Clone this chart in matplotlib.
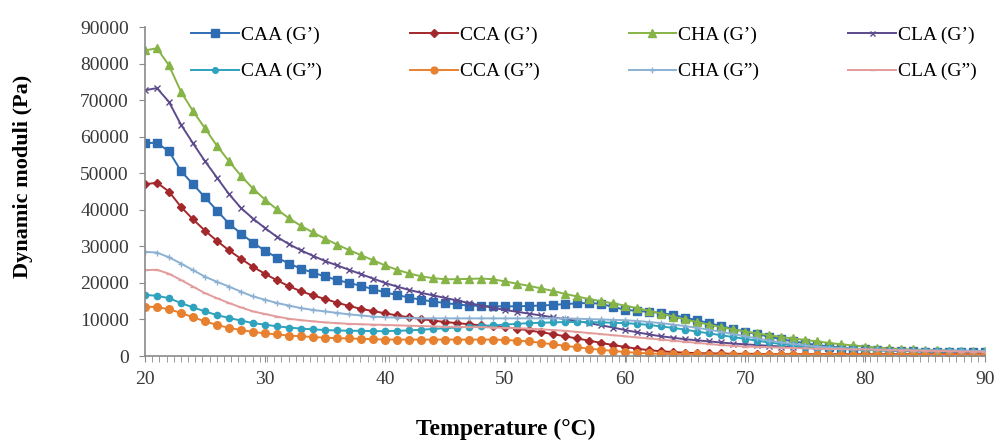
import numpy as np
import matplotlib

matplotlib.use("Agg")
import matplotlib.pyplot as plt
from matplotlib.ticker import FixedLocator

plt.rcParams["font.family"] = ["Liberation Serif", "DejaVu Serif"]

# temperature grid (°C), one reading per degree
temperature = list(range(20, 91))

caa_g1 = [58300, 58300, 56000, 50600, 47000, 43400, 39800, 36200, 33500, 31000,
          28800, 26900, 25300, 23900, 22800, 21800, 20800, 20000, 19200, 18300,
          17400, 16700, 16000, 15400, 14900, 14500, 14100, 13800, 13700, 13600,
          13600, 13600, 13700, 13800, 14000, 14200, 14400, 14500, 14300, 13400,
          12700, 12300, 12100, 11800, 11200, 10500, 9800, 9000, 8200, 7400,
          6700, 6000, 5300, 4600, 4000, 3500, 3000, 2600, 2300, 2000,
          1800, 1600, 1500, 1400, 1300, 1200, 1200, 1100, 1100, 1000, 1000]
cca_g1 = [47000, 47400, 45000, 40800, 37400, 34300, 31500, 28900, 26600, 24400,
          22500, 20700, 19100, 17700, 16600, 15600, 14600, 13700, 12900, 12300,
          11700, 11100, 10600, 10100, 9700, 9300, 9000, 8700, 8400, 8100,
          7900, 7500, 7000, 6500, 6000, 5400, 4800, 4200, 3600, 3000,
          2500, 2000, 1600, 1300, 1100, 900, 800, 700, 700, 600,
          600, 600, 500, 500, 500, 500, 500, 500, 500, 500,
          500, 500, 500, 500, 500, 500, 500, 500, 500, 500, 500]
cha_g1 = [83600, 84200, 79500, 72300, 67000, 62300, 57500, 53300, 49300, 45800,
          42800, 40100, 37700, 35600, 33800, 32100, 30500, 29000, 27600, 26200,
          24800, 23600, 22600, 21800, 21300, 21000, 21000, 21100, 21200, 21000,
          20400, 19800, 19200, 18500, 17800, 17000, 16300, 15600, 15000, 14400,
          13800, 13100, 12400, 11600, 10800, 10000, 9300, 8600, 7900, 7300,
          6700, 6200, 5700, 5200, 4800, 4400, 4000, 3600, 3200, 2900,
          2600, 2300, 2100, 1900, 1800, 1700, 1600, 1500, 1400, 1400, 1300]
cla_g1 = [72700, 73300, 69500, 63300, 58200, 53300, 48800, 44300, 40500, 37600,
          35000, 32600, 30600, 28900, 27400, 26000, 24800, 23600, 22400, 21200,
          20000, 19000, 18100, 17300, 16600, 15900, 15200, 14500, 13800, 13200,
          12600, 12100, 11600, 11100, 10600, 10100, 9600, 9000, 8400, 7800,
          7100, 6500, 5900, 5400, 5000, 4600, 4300, 4000, 3700, 3400,
          3200, 3000, 2800, 2600, 2400, 2300, 2200, 2100, 2000, 1900,
          1800, 1700, 1600, 1500, 1400, 1400, 1300, 1300, 1200, 1200, 1100]
caa_g2 = [16700, 16500, 15800, 14500, 13300, 12200, 11200, 10400, 9700, 9000,
          8600, 8100, 7800, 7500, 7300, 7100, 7000, 6900, 6900, 6800,
          6800, 6900, 7000, 7200, 7400, 7600, 7800, 8000, 8200, 8400,
          8600, 8800, 9000, 9100, 9200, 9300, 9300, 9300, 9200, 9100,
          9000, 8800, 8500, 8100, 7700, 7200, 6700, 6200, 5700, 5200,
          4700, 4200, 3700, 3300, 2900, 2600, 2300, 2100, 1900, 1800,
          1700, 1600, 1500, 1500, 1400, 1400, 1300, 1300, 1300, 1200, 1200]
cca_g2 = [13500, 13400, 12800, 11800, 10600, 9500, 8500, 7700, 7100, 6600,
          6200, 5900, 5600, 5400, 5200, 5000, 4900, 4800, 4700, 4600,
          4500, 4500, 4500, 4500, 4500, 4500, 4500, 4500, 4500, 4500,
          4400, 4200, 4000, 3600, 3200, 2800, 2400, 2000, 1700, 1400,
          1100, 900, 700, 600, 500, 500, 500, 400, 400, 400,
          400, 400, 400, 400, 400, 400, 400, 400, 400, 400,
          400, 400, 400, 400, 400, 400, 400, 400, 400, 400, 400]
cha_g2 = [28500, 28300, 27000, 25300, 23500, 21700, 20300, 19000, 17600, 16300,
          15400, 14500, 13800, 13100, 12600, 12200, 11800, 11400, 11100, 10800,
          10600, 10500, 10400, 10300, 10300, 10300, 10300, 10300, 10300, 10300,
          10300, 10300, 10300, 10300, 10300, 10300, 10200, 10100, 10000, 9900,
          9800, 9600, 9300, 9000, 8600, 8200, 7700, 7200, 6600, 6000,
          5400, 4800, 4200, 3700, 3300, 2900, 2600, 2300, 2100, 2000,
          1900, 1800, 1700, 1700, 1600, 1600, 1500, 1500, 1500, 1400, 1400]
cla_g2 = [23500, 23600, 22500, 20800, 19000, 17200, 15800, 14500, 13300, 12200,
          11500, 10800, 10200, 9800, 9500, 9200, 9000, 8800, 8700, 8600,
          8500, 8400, 8300, 8200, 8100, 8000, 8000, 7900, 7900, 7800,
          7700, 7600, 7500, 7300, 7100, 6900, 6600, 6300, 6000, 5700,
          5400, 5100, 4800, 4500, 4200, 3900, 3600, 3300, 3000, 2800,
          2600, 2500, 2400, 2300, 2200, 2100, 2000, 1900, 1900, 1800,
          1800, 1700, 1600, 1500, 1500, 1400, 1400, 1300, 1200, 1200, 1100]

# (label, values, colour, marker, markersize)
series = [
    ("CAA (G\u2019)", caa_g1, "#2f6db3", "s", 6),
    ("CCA (G\u2019)", cca_g1, "#a3282c", "D", 4),
    ("CHA (G\u2019)", cha_g1, "#86b446", "^", 6),
    ("CLA (G\u2019)", cla_g1, "#5d4a8c", "x", 4),
    ("CAA (G\u201d)", caa_g2, "#2fa2bd", "o", 4.5),
    ("CCA (G\u201d)", cca_g2, "#e8812f", "o", 5.5),
    ("CHA (G\u201d)", cha_g2, "#8cb1d3", "+", 4.5),
    ("CLA (G\u201d)", cla_g2, "#e29c9b", "_", 4),
]

fig = plt.figure(figsize=(9.95, 4.41), dpi=100)
ax = fig.add_axes([0.1457, 0.1927, 0.8443, 0.7460])

handles = {}
for label, vals, col, mk, ms in series:
    h, = ax.plot(temperature, vals, color=col, lw=1.4, marker=mk, ms=ms,
                 mec=col, mfc=col, mew=1.0, label=label)
    handles[label] = h

ax.set_xlim(20, 90)
ax.set_ylim(0, 90000)
ax.set_xticks(range(20, 91, 10))
ax.set_yticks(range(0, 90001, 10000))
# category-style tick marks at every reading of the instrument
ax.xaxis.set_minor_locator(FixedLocator(np.linspace(20, 90, 118)))
for s in ["top", "right"]:
    ax.spines[s].set_visible(False)
for s in ["left", "bottom"]:
    ax.spines[s].set_color("#8a8a8a")
    ax.spines[s].set_linewidth(1.2)
ax.tick_params(axis="both", which="both", direction="out", color="#8a8a8a",
               labelsize=14, labelcolor="#383838")
ax.tick_params(axis="x", which="both", length=4, pad=7)
ax.tick_params(axis="y", length=4.5, pad=7)

fig.text(506 / 995, (441 - 435) / 441, "Temperature (\u00b0C)", fontsize=17,
         fontweight="bold", ha="center", va="baseline")
fig.text(23 / 995, 1 - 176 / 441, "Dynamic moduli (Pa)", fontsize=16,
         fontweight="bold", ha="center", va="center", rotation=90)

# legend: 2 rows x 4 columns, filled column by column
order = ["CAA (G\u2019)", "CAA (G\u201d)", "CCA (G\u2019)", "CCA (G\u201d)",
         "CHA (G\u2019)", "CHA (G\u201d)", "CLA (G\u2019)", "CLA (G\u201d)"]
fig.legend([handles[k] for k in order], order, ncol=4, frameon=False,
           loc="upper left", bbox_to_anchor=(191 / 995, 1 - 26 / 441),
           borderaxespad=0, borderpad=0, fontsize=14,
           handlelength=2.45, handletextpad=0.12, columnspacing=4.55,
           labelspacing=0.98, markerscale=0.9)

fig.savefig("out.png", dpi=100)
